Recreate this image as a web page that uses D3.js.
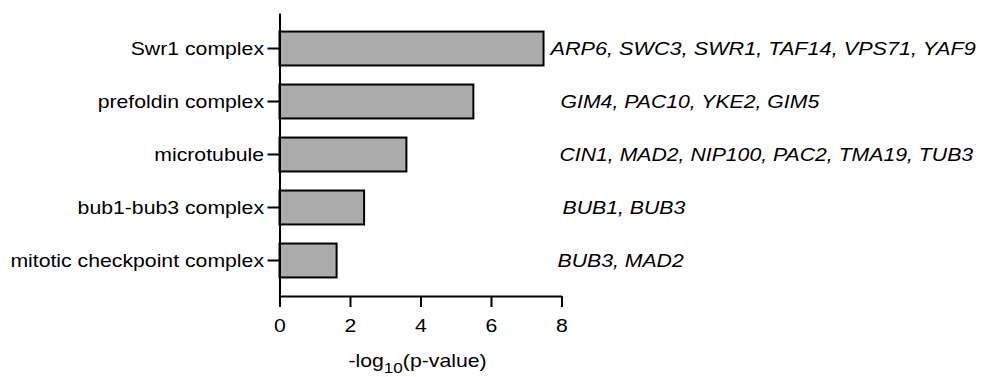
<!DOCTYPE html>
<head>
	<meta charset="utf-8">
	<script src="https://d3js.org/d3.v7.min.js"></script>
	<style>
		body {
			margin: 0;
			background: #fff;
		}
		svg text {
			font-family: "Liberation Sans", Arial, sans-serif;
			font-size: 18px;
			fill: #000;
		}
		.genes text {
			font-style: italic;
		}
		.axis path, .axis line {
			stroke: #000;
			stroke-width: 2px;
		}
	</style>
</head>
<body>

<svg width="984" height="377" id="chart"></svg>

<script>

	var terms = ["Swr1 complex", "prefoldin complex", "microtubule", "bub1-bub3 complex", "mitotic checkpoint complex"];
	var scores = [7.49, 5.50, 3.60, 2.40, 1.62];
	var genes = [
		"ARP6, SWC3, SWR1, TAF14, VPS71, YAF9",
		"GIM4, PAC10, YKE2, GIM5",
		"CIN1, MAD2, NIP100, PAC2, TMA19, TUB3",
		"BUB1, BUB3",
		"BUB3, MAD2"
	];
	var xTicks = [0, 2, 4, 6, 8];

	// the original's lettering is stretched sideways
	var sx = 1.18;
	// gene lists were placed by hand, not quite aligned
	var geneShift = [-11, -1, -2, 1, -4];

	var svg = d3.select("#chart"),
		margin = {top: 13, right: 422.5, bottom: 81, left: 279.5},
		width = +svg.attr("width"),
		height = +svg.attr("height");

	var x = d3.scaleLinear()
		.domain([0, 8])
		.range([margin.left, width - margin.right]);

	var y = d3.scaleBand()
		.domain(terms)
		.range([margin.top, height - margin.bottom])
		.paddingInner(0.36)
		.paddingOuter(0.35);

	var data = terms.map((t, i) => ({term: t, score: scores[i], genes: genes[i], i: i}));

	svg.append("g")
		.selectAll("rect")
		.data(data)
		.enter().append("rect")
		.attr("x", x(0))
		.attr("y", d => y(d.term))
		.attr("width", d => x(d.score) - x(0))
		.attr("height", y.bandwidth())
		.attr("fill", "#ababab")
		.attr("stroke", "#000")
		.attr("stroke-width", 2);

	var yAxis = svg.append("g")
		.attr("class", "axis")
		.attr("transform", "translate(" + margin.left + ",0)")
		.call(d3.axisLeft(y).tickSize(12).tickSizeOuter(0));

	yAxis.selectAll("text")
		.attr("x", -15.5 / sx)
		.attr("dy", "0.38em")
		.attr("transform", `scale(${sx},1)`);

	var xAxis = svg.append("g")
		.attr("class", "axis")
		.attr("transform", "translate(0," + (height - margin.bottom) + ")")
		.call(d3.axisBottom(x).tickValues(xTicks).tickFormat(d3.format("d")).tickSize(11).tickSizeOuter(0).tickPadding(12));

	xAxis.selectAll("text")
		.attr("transform", `scale(${sx},1)`);

	svg.selectAll(".axis text")
		.style("font-size", "18px")
		.style("font-family", '"Liberation Sans", Arial, sans-serif')
		.attr("fill", "#000");

	svg.append("g")
		.attr("class", "genes")
		.selectAll("text")
		.data(data)
		.enter().append("text")
		.attr("transform", d => `translate(${x(8) + geneShift[d.i]},${y(d.term) + y.bandwidth() / 2 + 6.5}) scale(${d.i == 0 ? sx * 1.02 : sx},1)`)
		.text(d => d.genes);

	var title = svg.append("text")
		.attr("text-anchor", "middle")
		.attr("transform", `translate(${(x(0) + x(8)) / 2 - 3},367) scale(${sx},1)`);

	title.append("tspan").text("-log");
	title.append("tspan").attr("dy", 6).style("font-size", "14.5px").text("10");
	title.append("tspan").attr("dy", -6).text("(p-value)");

</script>
</body>
